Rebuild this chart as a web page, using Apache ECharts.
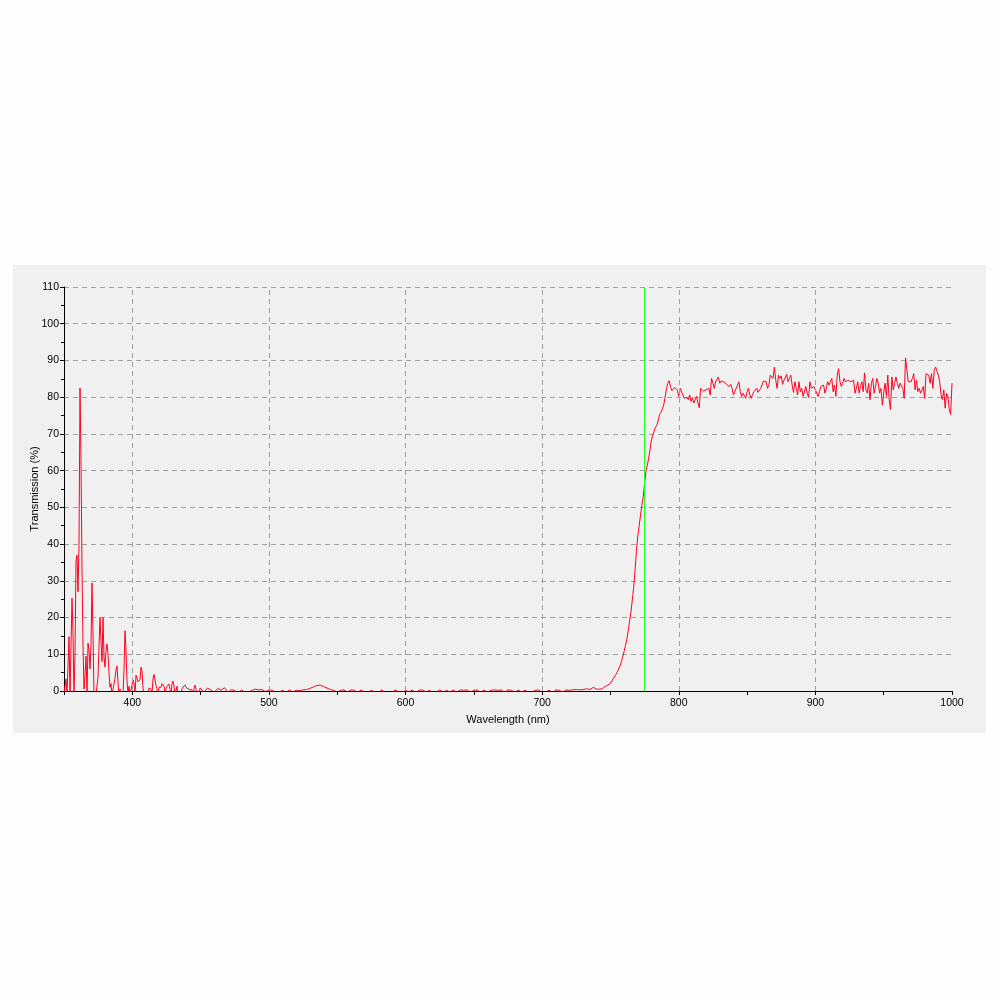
<!DOCTYPE html>
<html><head><meta charset="utf-8">
<script src="https://cdn.jsdelivr.net/npm/echarts@6/dist/echarts.min.js"></script>
<style>html,body{margin:0;padding:0;background:#fefefe}#c{width:1000px;height:1000px}</style>
</head><body><div id="c"></div>
<script>
// Transmission spectrum
// segment A: UV noise region (fine step)
const uvStartNm = 350, uvStepNm = 0.732;
const uvValues = [
 -1, -1, 3.3, -1, -1, 14.8, -1, -1, 25.3, 15.8,
 -1, 10, 35.4, 37, 27, 40, 82.5, 63, 33, 12.5,
 0.5, 4.3, 9.5, -1, 13, 11, 6, 12.5, 29.4, 15.5,
 -1, -1, -1, -1, 3.8, 12, 20, 13.6, 8, 20,
 9.3, 6.5, 11, 12.8, 10, 5, 1, 2, -1, -1,
 2, 3.5, 5.7, 6.8, 2.4, -1, 0.5, -1, -1, -1,
 5.7, 16.4, 11, 2.7, -1, 1.3, -1, -1, 1.6, 3,
 2.2, -1, 4.3, 3.5, 2.5, 2, 3, 6.5, 5.5, 0.8,
 -1, -1, -1, -1, -1, 0.8, 1.3, 0.5, -1, 3.3,
 4.5, 3, 1.5, 0.5, -1, 1, 1.3, 1, 2, 2.2,
 1.3, -1, 0.5, 1.3, 0.8, 1.9, 0.5, -1, 2, 2.7,
 1.3, -1, -1, 1.3, -1, -1, -1, -1, 0.5, 1.1,
 0.8, 1.6, 1, 0.5, 0.6, 0.5, 0.3, 0.6, 0.3, -1,
 0.6, 1.6, 0.6, -1, -1, -1, 0.8
];
// segment B: blocking region
const blockStartNm = 450, blockStepNm = 2.5;
const blockValues = [
 0.6, -0.3, 0.8, 0.3, -0.4, 0.7, 0.2, 0.9, -0.3, 0.4,
 0.1, -0.5, 0.3, -0.4, -0.3, 0.2, 0.5, 0.3, 0.4, -0.2,
 0.3, 0.2, -0.4, -0.3, 0.2, -0.4, 0.3, -0.3, 0.2, 0.1,
 0.3, 0.4, 0.7, 1.1, 1.5, 1.6, 1.2, 0.8, 0.4, 0.2,
 -0.3, 0.2, 0.3, -0.3, 0.3, 0.2, -0.4, 0.3, -0.3, -0.4,
 0.2, -0.3, -0.4, 0.3, -0.4, -0.3, -0.4, 0.3, -0.3, -0.4,
 0.2, -0.3, 0.3, -0.4, 0.2, 0.3, -0.3, 0.2, -0.4, -0.3,
 0.3, -0.4, 0.2, -0.3, 0.3, -0.4, 0.3, 0.2, 0.3, -0.3,
 0.2, 0.3, -0.4, 0.3, -0.3, 0.2, 0.3, 0.2, 0.3, -0.3,
 0.3, 0.2, -0.4, 0.3, -0.3, 0.2, -0.4, -0.3, 0.2, 0.3,
 -0.4, -0.3, 0.2, -0.4, 0.3, 0.2, -0.3, 0.3, 0.2, 0.3,
 0.4, 0.3, 0.4, 0.6, 0.4, 1.0
];
// segment C: edge (cut-on)
const edgeStartNm = 740, edgeStepNm = 1;
const edgeValues = [
 0.5, 0.5, 0.5, 0.5, 0.6, 0.9, 1.2, 1.4, 1.6, 1.8,
 2.1, 2.7, 3.4, 3.9, 4.5, 5.2, 6.0, 6.8, 8.0, 9.3,
 10.8, 12.4, 14.1, 16.4, 19.0, 21.6, 24.8, 28.2, 33.0, 38.0,
 42.2, 44.9, 47.9, 50.6, 52.9, 56.8, 59.8, 61.5, 63.5, 65.8,
 68.4, 69.7, 69.5, 71.8, 72.4, 73.8, 75.3, 75.9, 76.8, 77.9,
 80.0, 82.3, 83.8, 84.5, 82.8, 81.8, 82.0, 82.7, 82.6, 81.9
];
// segment D: pass band
const passStartNm = 800, passStepNm = 1;
const passValues = [
 80.2, 82.4, 82, 80.6, 79.7, 79.3, 79.9, 79.3, 80.6, 78.8,
 79.9, 78.4, 78.1, 80.2, 78.4, 77.1, 82.4, 82, 81.7, 81.5,
 82, 81.5, 82.4, 80.6, 85.1, 83.8, 82.4, 84.2, 84.2, 85.5,
 83.8, 84.4, 84, 84.2, 83.8, 83.5, 83.1, 82.9, 83.5, 82.4,
 80.6, 80.2, 82.4, 82.9, 84.2, 81.5, 80.2, 81.1, 80.6, 79.7,
 81.5, 82.4, 80.6, 79.7, 80.8, 81.5, 82, 82.4, 81.3, 81.7, 82.4,
 82.4, 84.4, 84.6, 84.2, 82.4, 83.3, 86, 86.2, 85.1, 88.2,
 84.6, 82.4, 86, 85.1, 85.8, 83.5, 84.6, 85.1, 86.2, 84.2,
 85.1, 86, 83.3, 81.3, 84.2, 82.4, 80.6, 84.2, 81.5, 82.4,
 80.2, 80.6, 82.9, 81.1, 79.9, 84.2, 82.4, 82, 82.9, 82.4,
 81.1, 80.2, 81.5, 82.9, 82.4, 83.3, 81.1, 82.4, 84.2, 83.3,
 82.9, 85.1, 81.5, 83.3, 80.2, 86, 87.8, 84.2, 82.9, 83.8,
 85.1, 84.2, 83.8, 84.6, 84.2,
 84.2, 83.8, 84.6, 81.1, 82.4, 84.2, 81.1, 82.9, 84.2, 81.5,
 86.6, 82, 81.1, 83.8, 79.3, 83.8, 85.1, 81.1, 82.9, 85.1,
 83.8, 81.1, 82.4, 77.9, 81.1, 83.8, 80.2, 86, 79.3, 76.6,
 85.5, 82, 83.8, 85.5, 83.8, 82.4, 83.8, 84.2, 82.4, 79.7,
 90.7, 87.3, 84.2, 83.8, 84.2, 85.1, 86.4, 82, 84.6, 81.5,
 82.4, 81.1, 82, 82.9, 79.7, 86.4, 86.6, 86, 83.8, 86.4,
 82.4, 87.3, 88.2, 87.8, 86, 84.2, 80.6, 79.3, 82, 77,
 81.1, 80.2, 76.6, 75.3, 83.8
];
const xLabelValues = [400, 500, 600, 700, 800, 900, 1000];
const xGridNm = [400, 500, 600, 700, 800, 900];
const cutOnNm = 775;

function seg(start, step, vals) { return vals.map((v, i) => [+(start + i * step).toFixed(3), v]); }
const data = [].concat(
  seg(uvStartNm, uvStepNm, uvValues),
  seg(blockStartNm, blockStepNm, blockValues),
  seg(edgeStartNm, edgeStepNm, edgeValues),
  seg(passStartNm, passStepNm, passValues)
);

const font = 'Liberation Sans, Arial, sans-serif';
const chart = echarts.init(document.getElementById('c'), null, {renderer: 'canvas'});
chart.setOption({
  animation: false,
  backgroundColor: '#fefefe',
  graphic: [{type: 'rect', silent: true, z: -10, shape: {x: 13, y: 265, width: 973, height: 468}, style: {fill: '#f0f0f0'}}],
  grid: {left: 64, top: 287, right: 48, bottom: 309, containLabel: false},
  xAxis: {
    type: 'value', min: 350, max: 1000, interval: 50,
    name: 'Wavelength (nm)', nameLocation: 'middle', nameGap: 23, nameMoveOverlap: false,
    nameTextStyle: {fontFamily: font, fontSize: 11, color: '#000'},
    axisLine: {show: true, onZero: false, lineStyle: {color: '#000', width: 1}},
    axisTick: {show: true, length: 4, lineStyle: {color: '#000'}},
    axisLabel: {fontFamily: font, fontSize: 10.5, color: '#000', margin: 7,
      formatter: v => (xLabelValues.indexOf(v) >= 0 ? String(v) : '')},
    splitLine: {show: false}
  },
  yAxis: {
    type: 'value', min: 0, max: 110, interval: 10,
    name: 'Transmission (%)', nameLocation: 'middle', nameGap: 24, nameRotate: 90, nameMoveOverlap: false,
    nameTextStyle: {fontFamily: font, fontSize: 11, color: '#000'},
    axisLine: {show: true, lineStyle: {color: '#000', width: 1}},
    axisTick: {show: true, length: 4, lineStyle: {color: '#000'}},
    minorTick: {show: true, splitNumber: 2, length: 3, lineStyle: {color: '#000'}},
    axisLabel: {fontFamily: font, fontSize: 10.5, color: '#000', margin: 5},
    splitLine: {show: true, lineStyle: {color: '#a0a0a0', type: [5, 4], width: 1}}
  },
  series: [
    {
      type: 'line', data: [], z: 1, silent: true,
      markLine: {silent: true, symbol: ['none', 'none'], label: {show: false}, animation: false,
        lineStyle: {color: '#a0a0a0', type: [5, 4], width: 1},
        data: xGridNm.map(v => ({xAxis: v}))}
    },
    {
      type: 'line', data: data, z: 3, showSymbol: false, symbol: 'none', sampling: null,
      lineStyle: {color: '#ff0020', width: 1}, itemStyle: {color: '#ff0020'}, clip: true,
      markLine: {silent: true, symbol: ['none', 'none'], label: {show: false}, animation: false,
        lineStyle: {color: '#22ff22', type: 'solid', width: 1},
        data: [{xAxis: cutOnNm}]}
    }
  ]
});
</script></body></html>
